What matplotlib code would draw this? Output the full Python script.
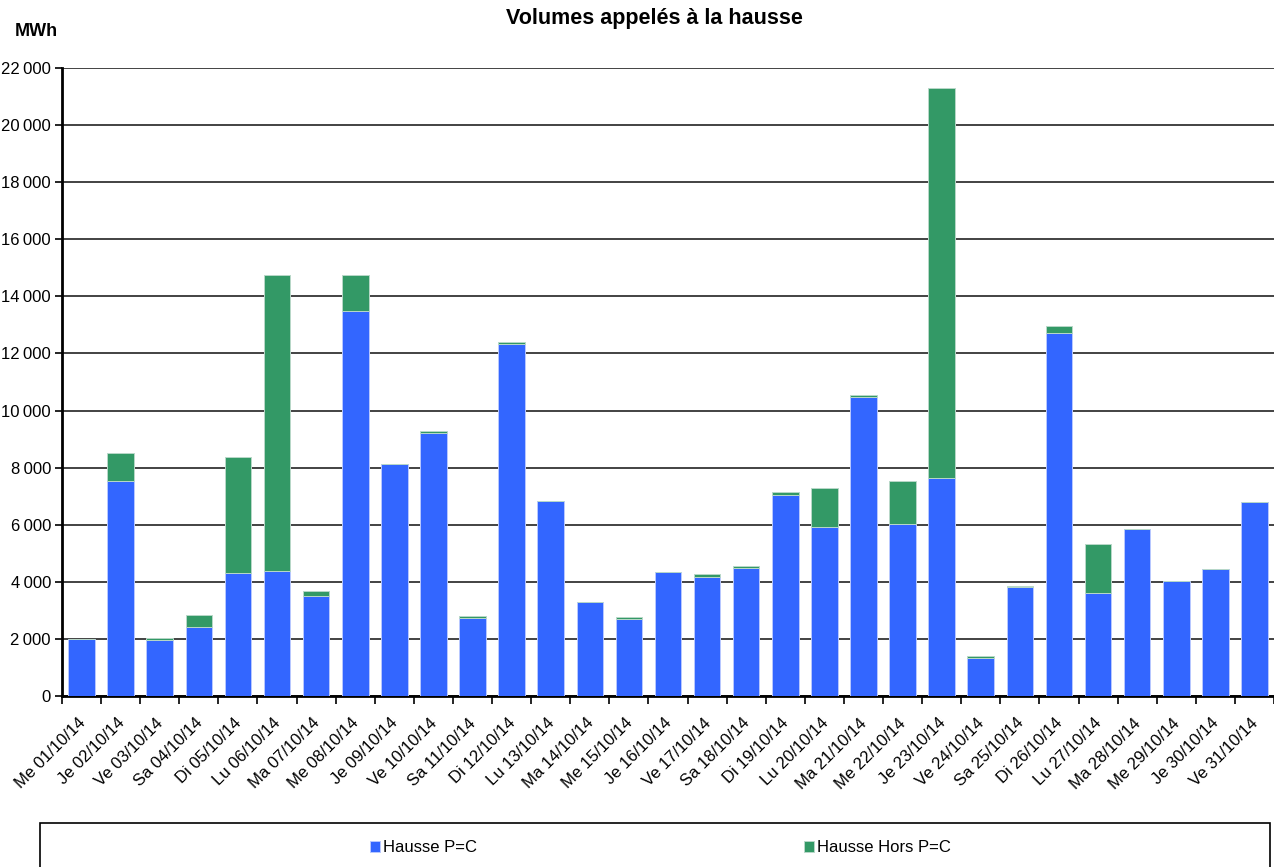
import matplotlib.pyplot as plt
from matplotlib.patches import Rectangle
from matplotlib.ticker import FuncFormatter, MultipleLocator
import matplotlib.transforms as mtransforms
import numpy as np

plt.rcParams['font.family'] = ['Liberation Sans', 'DejaVu Sans']

days = ['Me 01/10/14', 'Je 02/10/14', 'Ve 03/10/14', 'Sa 04/10/14', 'Di 05/10/14',
        'Lu 06/10/14', 'Ma 07/10/14', 'Me 08/10/14', 'Je 09/10/14', 'Ve 10/10/14',
        'Sa 11/10/14', 'Di 12/10/14', 'Lu 13/10/14', 'Ma 14/10/14', 'Me 15/10/14',
        'Je 16/10/14', 'Ve 17/10/14', 'Sa 18/10/14', 'Di 19/10/14', 'Lu 20/10/14',
        'Ma 21/10/14', 'Me 22/10/14', 'Je 23/10/14', 'Ve 24/10/14', 'Sa 25/10/14',
        'Di 26/10/14', 'Lu 27/10/14', 'Ma 28/10/14', 'Me 29/10/14', 'Je 30/10/14',
        'Ve 31/10/14']

# MWh
hausse_pc = [2000, 7540, 1960, 2410, 4310, 4380, 3510, 13480, 8140, 9210,
             2740, 12330, 6830, 3290, 2690, 4330, 4170, 4500, 7050, 5920,
             10490, 6010, 7650, 1340, 3810, 12730, 3620, 5840, 4030, 4440,
             6790]
hausse_hors_pc = [0, 970, 70, 440, 4050, 10370, 170, 1270, 0, 60,
                  60, 70, 0, 0, 70, 0, 100, 50, 110, 1350,
                  50, 1530, 13650, 60, 40, 220, 1690, 0, 0, 0,
                  0]

blue = '#3366ff'
green = '#339966'

fig = plt.figure(figsize=(12.74, 8.67), dpi=100)
ax = fig.add_axes([62 / 1274, 1 - 696 / 867, 1 - 62 / 1274, (696 - 68) / 867])

x = np.arange(len(days))
b1 = ax.bar(x, hausse_pc, width=0.68, color=blue, edgecolor='#b8c8ff', linewidth=0.7,
            label='Hausse P=C', zorder=3)
b2 = ax.bar(x, hausse_hors_pc, width=0.68, bottom=hausse_pc, color=green,
            edgecolor='#b8d8c8', linewidth=0.7, label='Hausse Hors P=C', zorder=3)

ax.set_xlim(-0.5, len(days) - 0.5)
ax.set_ylim(0, 22000)
ax.yaxis.set_major_locator(MultipleLocator(2000))
ax.yaxis.set_major_formatter(FuncFormatter(
    lambda v, p: f'{int(v):,}'.replace(',', '\u2009') if v >= 1000 else f'{int(v)}'))
ax.grid(axis='y', color='#222222', linewidth=1.2, zorder=0)
ax.set_axisbelow(True)

ax.set_xticks(x)
ax.set_xticklabels(days, rotation=45, ha='right', rotation_mode='anchor', fontsize=12)
ax.set_xticks(np.arange(len(days) + 1) - 0.5, minor=True)
ax.tick_params(axis='x', which='major', length=0, pad=14)
ax.tick_params(axis='x', which='minor', length=6, width=1.2, color='black')
ax.tick_params(axis='y', length=5, width=1.2, labelsize=12, pad=3)
shift = mtransforms.ScaledTranslation(-4 / 100, 0, fig.dpi_scale_trans)
for lab in ax.get_xticklabels():
    lab.set_transform(lab.get_transform() + shift)

for s in ['top', 'right']:
    ax.spines[s].set_visible(False)
ax.spines['left'].set_linewidth(2)
ax.spines['bottom'].set_linewidth(2)

fig.text(0.514, 0.979, 'Volumes appelés à la hausse', ha='center', va='center',
         fontsize=15.5, fontweight='bold')
fig.text(15 / 1274, 1 - 32 / 867, 'MWh', ha='left', va='center', fontsize=13,
         fontweight='bold')

# legend frame
fig.patches.append(Rectangle((40 / 1274, -0.02), (1270 - 40) / 1274, (867 - 823) / 867 + 0.02,
                             transform=fig.transFigure, fill=False, edgecolor='black',
                             linewidth=1.2))
fig.legend(handles=[b1], loc='center left', bbox_to_anchor=(355 / 1274, 1 - 848 / 867),
           frameon=False, fontsize=12, handlelength=0.6, handleheight=0.6,
           handletextpad=0.2)
fig.legend(handles=[b2], loc='center left', bbox_to_anchor=(789 / 1274, 1 - 848 / 867),
           frameon=False, fontsize=12, handlelength=0.6, handleheight=0.6,
           handletextpad=0.2)

fig.canvas.draw()
grid_lines = ax.yaxis.get_gridlines()
grid_lines[-1].set_color('#888888')

fig.savefig('out.png', dpi=100)
